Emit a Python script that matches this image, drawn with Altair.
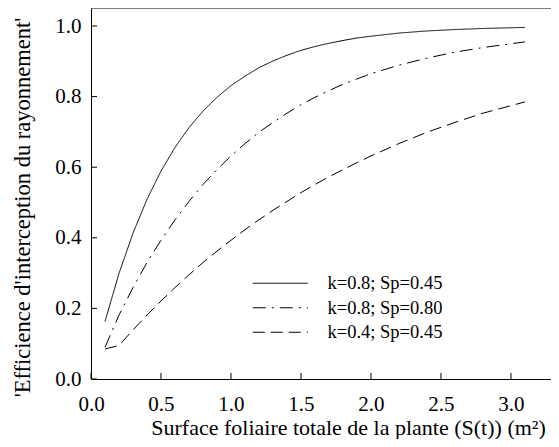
import altair as alt
import pandas as pd

S = [0.1, 0.2, 0.3, 0.4, 0.5, 0.6, 0.7, 0.8, 0.9, 1.0, 1.1, 1.2, 1.3, 1.4, 1.5, 1.6, 1.7, 1.8, 1.9, 2.0,
     2.2, 2.4, 2.6, 2.8, 3.1]
solid = [0.163, 0.299, 0.413, 0.509, 0.589, 0.656, 0.712, 0.759, 0.798, 0.831, 0.858, 0.882, 0.901, 0.917,
         0.931, 0.942, 0.951, 0.959, 0.966, 0.971, 0.980, 0.986, 0.990, 0.993, 0.996]
dashdot = [0.09, 0.181, 0.259, 0.330, 0.393, 0.451, 0.503, 0.551, 0.593, 0.632, 0.667, 0.699, 0.727, 0.753,
           0.777, 0.798, 0.817, 0.835, 0.850, 0.865, 0.889, 0.909, 0.926, 0.939, 0.955]
dashed = [0.085, 0.095, 0.139, 0.181, 0.221, 0.259, 0.295, 0.330, 0.362, 0.393, 0.423, 0.451, 0.478, 0.503,
          0.528, 0.551, 0.573, 0.593, 0.613, 0.632, 0.667, 0.699, 0.727, 0.753, 0.785]
series = ["k=0.8; Sp=0.45", "k=0.8; Sp=0.80", "k=0.4; Sp=0.45"]
x_ticks = [0.0, 0.5, 1.0, 1.5, 2.0, 2.5, 3.0]
y_ticks = [0.0, 0.2, 0.4, 0.6, 0.8, 1.0]

rows = []
for name, vals in zip(series, [solid, dashdot, dashed]):
    for s, v in zip(S, vals):
        rows.append({"S": s, "E": v, "serie": name})
df = pd.DataFrame(rows)

W, H = 460, 371
FONT = "Liberation Serif"
xscale = alt.Scale(domain=[0, 3.286], nice=False, zero=False)
yscale = alt.Scale(domain=[0, 1.051], nice=False, zero=False)

lines = alt.Chart(df).mark_line(color="black", strokeWidth=1).encode(
    x=alt.X("S:Q", scale=xscale,
            axis=alt.Axis(values=x_ticks, format=".1f", title="Surface foliaire totale de la plante (S(t)) (m²)",
                          ticks=False, grid=False, domainColor="black", labelPadding=14, labelFlush=False,
                          labelFont=FONT, titleFont=FONT, labelFontSize=21, titleFontSize=22,
                          titleX=257, titleY=55, titleAlign="center", titleBaseline="alphabetic")),
    y=alt.Y("E:Q", scale=yscale,
            axis=alt.Axis(values=y_ticks, format=".1f", title="'Efficience d'interception du rayonnement'",
                          ticks=False, grid=False, domainColor="black", labelPadding=10, labelFlush=False,
                          labelFont=FONT, titleFont=FONT, labelFontSize=21, titleFontSize=22.5,
                          titleX=-62, titleY=199, titleAlign="center", titleBaseline="alphabetic")),
    strokeDash=alt.StrokeDash("serie:N", sort=series,
                              scale=alt.Scale(domain=series, range=[[1, 0], [13, 6, 2, 6], [12, 6]]),
                              legend=alt.Legend(title=None, orient="none", legendX=180, legendY=266,
                                                padding=0, symbolType="M-5,0H5", symbolSize=121,
                                                symbolStrokeWidth=1, symbolStrokeColor="black",
                                                symbolFillColor="transparent",
                                                labelFontSize=18.5, labelFont=FONT,
                                                labelOffset=38, rowPadding=5.5, labelColor="black")),
    order=alt.Order("S:Q"),
)

xt = alt.Chart(pd.DataFrame({"S": x_ticks})).mark_rule(color="black", strokeWidth=1).encode(
    x=alt.X("S:Q", scale=xscale), y=alt.value(H), y2=alt.value(H - 6))
yt = alt.Chart(pd.DataFrame({"E": y_ticks})).mark_rule(color="black", strokeWidth=1).encode(
    y=alt.Y("E:Q", scale=yscale), x=alt.value(0), x2=alt.value(6))
top = alt.Chart(pd.DataFrame({"E": [1.051]})).mark_rule(color="black", strokeWidth=1).encode(
    y=alt.Y("E:Q", scale=yscale), x=alt.value(0), x2=alt.value(W))

chart = alt.layer(lines, xt, yt, top).properties(
    width=W, height=H, autosize=alt.AutoSizeParams(type="none"),
    padding={"left": 83, "top": 0, "right": 0, "bottom": 60}
).configure_view(stroke=None).configure_axis(
    labelFont=FONT, titleFont=FONT, labelColor="black", titleColor="black",
    titleFontWeight="normal", domainWidth=1
)

chart.save("out.html", embed_options={"renderer": "svg", "actions": False})
